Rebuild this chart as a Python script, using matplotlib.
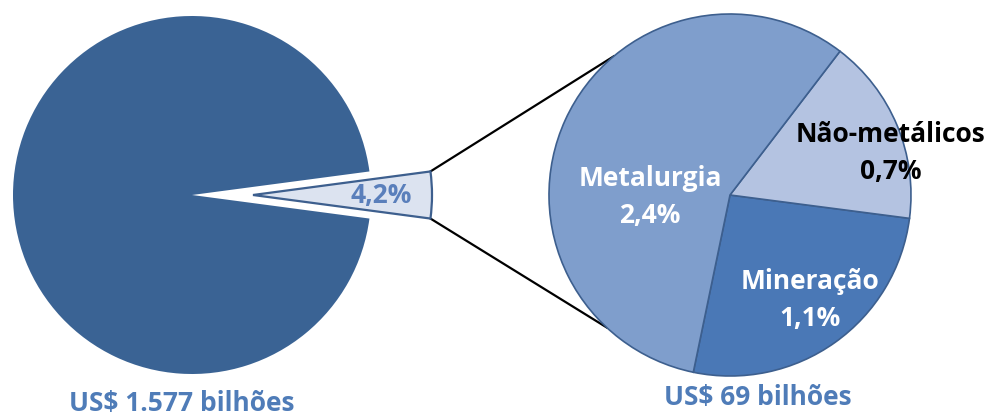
import matplotlib.pyplot as plt
import numpy as np

# share of the mineral sector in the whole industry
main_values = [4.2, 95.8]
main_label = "4,2%"

# breakdown of the mineral sector
sector_names = ["Mineração", "Não-metálicos", "Metalurgia"]
sector_values = [1.1, 0.7, 2.4]
sector_pcts = ["1,1%", "0,7%", "2,4%"]

totals = ["US$ 1.577 bilhões", "US$ 69 bilhões"]

plt.rcParams['font.family'] = 'Open Sans'
plt.rcParams['font.weight'] = 'bold'

fig = plt.figure(figsize=(9.91, 4.16), dpi=100)
ax = fig.add_axes([0, 0, 1, 1])

edge = "#3d5f8e"
c_left = (192, 221)
r_left = 179
pull = 61
c_right = (730, 221)
r_right = 181

# left pie, small wedge pulled out to the right
half = main_values[0] / sum(main_values) * 360 / 2
ax.pie(main_values, startangle=-half, center=c_left, radius=r_left,
       explode=[pull, 0], colors=["#dce3f0", "#3a6394"],
       wedgeprops=dict(linewidth=0), frame=True)
wl = ax.patches[0]
wl.set_edgecolor(edge)
wl.set_linewidth(1.6)

# right pie
ang0 = -101.7
ax.pie(sector_values, startangle=ang0, center=c_right, radius=r_right,
       colors=["#4a78b6", "#b4c3e1", "#7f9ecc"],
       wedgeprops=dict(edgecolor=edge, linewidth=1.2), frame=True)

# connector lines from the pulled wedge to the right pie
tip = np.array(c_left) + np.array([pull, 0])
for a, b in [(half, 130), (-half, -133)]:
    p0 = tip + r_left * np.array([np.cos(np.radians(a)), np.sin(np.radians(a))])
    p1 = np.array(c_right) + r_right * np.array([np.cos(np.radians(b)), np.sin(np.radians(b))])
    ax.plot([p0[0], p1[0]], [p0[1], p1[1]], color="black", lw=1.6, zorder=0)

fs = 19
ax.text(381, 221, main_label, ha="center", va="center", fontsize=fs,
        fontweight="bold", color="#5a7fbb")

ax.text(650, 219, sector_names[2] + "\n" + sector_pcts[2], ha="center", va="center",
        fontsize=fs, fontweight="bold", color="white", linespacing=1.45)
ax.text(891, 263, sector_names[1] + "\n" + sector_pcts[1], ha="center", va="center",
        fontsize=fs, fontweight="bold", color="black", linespacing=1.45)
ax.text(810, 116, sector_names[0] + "\n" + sector_pcts[0], ha="center", va="center",
        fontsize=fs, fontweight="bold", color="white", linespacing=1.45)

ax.text(182, 12, totals[0], ha="center", va="center", fontsize=fs,
        fontweight="bold", color="#4f7cb8")
ax.text(758, 18, totals[1], ha="center", va="center", fontsize=fs,
        fontweight="bold", color="#4f7cb8")

ax.set_xlim(0, 991)
ax.set_ylim(0, 416)
ax.set_aspect("equal")
ax.axis("off")

fig.savefig("out.png", dpi=100)
